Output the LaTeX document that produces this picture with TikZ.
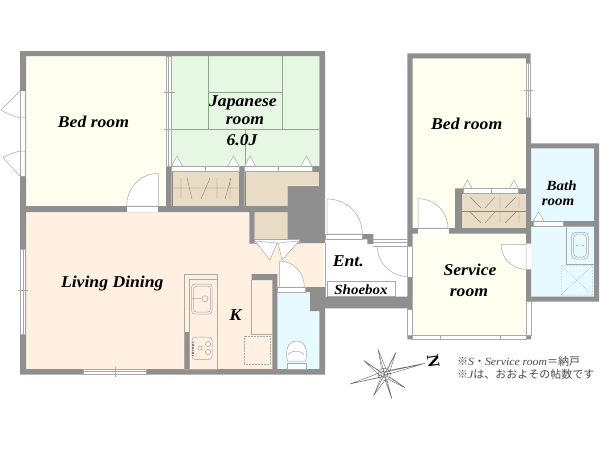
\documentclass[tikz,border=0pt]{standalone}
\usepackage{fontspec}
\setmainfont{Liberation Serif}[FakeStretch=1.07]
\newfontfamily\notefont{Noto Sans CJK JP}
\definecolor{wallgray}{HTML}{8F8F8F}
\definecolor{thinline}{HTML}{A8A8A8}
\definecolor{bedfloor}{HTML}{FFFFF0}
\definecolor{tatami}{HTML}{E6F7E4}
\definecolor{tatamiline}{HTML}{8EA58E}
\definecolor{livfloor}{HTML}{FFF0E2}
\definecolor{closet}{HTML}{E8DCC7}
\definecolor{closetline}{HTML}{8C8478}
\definecolor{bathfloor}{HTML}{E6FAFF}
\definecolor{notegray}{HTML}{4A4A4A}
\tikzset{
	wall/.style={fill=wallgray},
	thin line/.style={draw=thinline,line width=0.5pt},
	doorleaf/.style={draw=thinline,line width=0.5pt,fill=white},
	winstrip/.style={draw=thinline,line width=0.5pt,fill=white},
	roomlabel/.style={font=\fontsize{16.5}{18}\selectfont\bfseries\itshape,text=black,inner sep=0pt},
	smalllabel/.style={roomlabel,font=\fontsize{14}{15}\selectfont\bfseries\itshape},
	noteline/.style={font=\fontsize{11}{12}\notefont,text=notegray,anchor=west,inner sep=0pt},
}
\begin{document}
\begin{tikzpicture}[x=1pt,y=-1pt]
	\useasboundingbox (0,0) rectangle (600,450);
	\fill[bedfloor] (26,56) rectangle (166,206);
	\fill[bedfloor] (412.7,58) rectangle (526,228);
	\fill[bedfloor] (412.7,233) rectangle (526,335);
	\fill[tatami] (171,56) rectangle (319.3,166);
	\fill[livfloor] (26,212) -- (249.3,212) -- (249.3,243) -- (323,243) -- (323,287) -- (277,287) -- (277,369) -- (26,369) -- cycle;
	\fill[closet] (171.7,171.5) rectangle (239.3,206);
	\fill[closet] (244.7,171.5) -- (319.3,171.5) -- (319.3,185.7) -- (287.7,185.7) -- (287.7,206) -- (244.7,206) -- cycle;
	\fill[closet] (254.7,212) rectangle (299.3,239);
	\fill[closet] (461,193.5) rectangle (526,228);
	\fill[bathfloor] (531,148) rectangle (594,297);
	\fill[bathfloor] (277,292) rectangle (319.3,369);
	\draw[tatamiline,line width=0.5pt] (208.7,56) -- (208.7,129.3) (282.3,56) -- (282.3,129.3) (208.7,92.3) -- (282.3,92.3) (166,129.3) -- (319.3,129.3) (245.3,129.3) -- (245.3,166);
	\draw[closetline,line width=0.4pt] (171.7,171.5) -- (171.7,206) -- (239.3,206) -- (239.3,171.5) -- cycle;
	\draw[closetline,line width=0.4pt] (244.7,171.5) -- (319.3,171.5) -- (319.3,185.7) -- (287.7,185.7) -- (287.7,206) -- (244.7,206) -- cycle;
	\draw[closetline,line width=0.4pt] (181,178) -- (181,199) (172,188) -- (239,188) (187,178) -- (192,199) (201,199) -- (210,178) (217,178) -- (217,199) (225,199) -- (231,178) (230,178) -- (230,199);
	\draw[closetline,line width=0.4pt] (461,193.5) rectangle (526,228);
	\draw[closetline,line width=0.4pt] (461,211) -- (526,211);
	\draw[closetline,line width=0.4pt] (470,197) -- (481,208) (485,208) -- (495,197) (500,197) -- (500,208) (505,208) -- (516,197) (519,197) -- (519,208);
	\draw[closetline,line width=0.4pt] (470,212) -- (481,223) (485,223) -- (495,212) (500,212) -- (500,223) (505,223) -- (516,212) (519,212) -- (519,223);
	\draw[doorleaf] (177,156) -- (171.7,166) -- (182.5,166) -- cycle;
	\draw[doorleaf] (233.5,156) -- (228,166) -- (239,166) -- cycle;
	\draw[doorleaf] (250,156) -- (244.7,166) -- (255.5,166) -- cycle;
	\draw[doorleaf] (306.5,156) -- (301,166) -- (312,166) -- cycle;
	\draw[doorleaf] (467.3,180) -- (463,188.3) -- (472,188.3) -- cycle;
	\draw[doorleaf] (514,180) -- (509.5,188.3) -- (518.5,188.3) -- cycle;
	\draw[doorleaf] (538.5,212) -- (533.3,221) -- (544,221) -- cycle;
	\fill[wall] (20,51) rectangle (325,56) (20,51) rectangle (26,374.5) (20,369) rectangle (325,374.5)
		(26,206) rectangle (325,212) (166,166) rectangle (171.7,212) (239.3,166) rectangle (244.7,206)
		(312.3,166) rectangle (325,171.5) (319.3,51) rectangle (325,243) (287.7,186) rectangle (325,243)
		(249.3,206) rectangle (254.7,243.6) (299.3,212) rectangle (325,243) (184,332) rectangle (189.3,369)
		(251.7,274) rectangle (277.3,280) (272.3,274) rectangle (277.3,374.5) (305,287) rectangle (325,292)
		(310,287) rectangle (325,311) (319.3,287) rectangle (325,374.5) (323,296.7) rectangle (412,308.3);
	\fill[wall] (362.3,234) -- (373.3,234) -- (373.3,244) -- (367.3,244) -- (367.3,239.3) -- (362.3,239.3) -- cycle;
	\fill[wall] (407.3,53.3) rectangle (530.7,58.3) (407.3,53.3) rectangle (412.7,246.7) (407.3,276.5) rectangle (412.7,309)
		(526,53.3) rectangle (530.7,63) (526,117.7) rectangle (531,243.7) (526,269.3) rectangle (531,301.7)
		(455,188.3) rectangle (461,233.7) (455,188.3) rectangle (463.3,193.5) (518,188.3) rectangle (526,193.5)
		(449,228) rectangle (526,233.7) (412.7,228) rectangle (418,233.7) (531,143.3) rectangle (599,148.3)
		(594,143.3) rectangle (599,301.7) (526,296.7) rectangle (599,301.7) (563.3,221) rectangle (599,226.7)
		(531,221) rectangle (533.3,226.7) (407.3,335) rectangle (412.7,339.3) (526,335) rectangle (531,339.3);
	\draw[winstrip] (20.3,249.3) rectangle (25.7,334.3);
	\draw[thin line] (23,249.3) -- (23,334.3) (18,290.7) -- (28,290.7);
	\draw[winstrip] (83.7,369) rectangle (146,374.5);
	\draw[thin line] (83.7,371.7) -- (146,371.7) (115,367) -- (115,377);
	\draw[winstrip] (166,56) rectangle (171.3,166);
	\draw[thin line] (168.7,56) -- (168.7,166) (164,92.3) -- (175,92.3) (164,129.3) -- (175,129.3);
	\draw[winstrip] (171.7,166) rectangle (205.3,171.5);
	\draw[winstrip] (205.3,166) rectangle (239.3,171.5);
	\draw[winstrip] (244.7,166) rectangle (278.3,171.5);
	\draw[winstrip] (278.3,166) rectangle (312.3,171.5);
	\draw[winstrip] (254.7,239) rectangle (299.3,243);
	\draw[doorleaf] (255,241) -- (270,260) -- (277,243) -- cycle;
	\draw[doorleaf] (278,243) -- (282,260) -- (299,241) -- cycle;
	\draw[winstrip] (463.3,188.3) rectangle (491,193.5);
	\draw[winstrip] (491,188.3) rectangle (518,193.5);
	\draw[winstrip] (533.3,221) rectangle (563.3,226.7);
	\draw[winstrip] (526,63) rectangle (530.7,117.7);
	\draw[thin line] (528.3,63) -- (528.3,117.7) (524,90.7) -- (533,90.7);
	\draw[winstrip] (407.5,309) rectangle (412.7,335);
	\draw[winstrip] (412.7,335) rectangle (440.7,339.3);
	\draw[winstrip] (440.7,335) rectangle (500.3,339.3);
	\draw[winstrip] (500.3,335) rectangle (526,339.3);
	\draw[winstrip] (526.2,301.7) rectangle (530.8,335);
	\fill[white] (20.5,91) rectangle (25.7,176);
	\draw[doorleaf] (20,91) -- (1,110) .. controls (8,114) and (16,118) .. (25,118) -- (25,91);
	\draw[doorleaf] (20,176) -- (3,158) .. controls (9,154) and (16,151) .. (25,151) -- (25,176);
	\draw[thin line] (20.3,90.7) -- (20.3,176) (25.7,90.7) -- (25.7,176);
	\fill[white] (126.7,206) rectangle (158.3,212);
	\draw[doorleaf] (126.7,206) .. controls (126.7,188) and (140,173.5) .. (158.3,173.5) -- (158.3,206) -- cycle;
	\draw[thin line] (126.7,206) -- (158.3,206);
	\fill[white] (418,228) rectangle (449,233.7);
	\draw[doorleaf] (448,228) .. controls (448,212) and (435,198.7) .. (418,198.7) -- (418,228) -- cycle;
	\draw[thin line] (418,228) -- (449,228);
	\draw[doorleaf] (304.3,287) .. controls (304.3,272) and (293,261) .. (279.5,261) -- (279.5,287) -- cycle;
	\fill[white] (277.5,287) rectangle (305,292);
	\draw[thin line] (277.5,287) rectangle (305,292);
	\draw[thin line] (325,243) -- (325,296.7);
	\draw[doorleaf] (362.3,234) .. controls (362.3,214) and (347,199) .. (327,199) -- (327,234) -- cycle;
	\draw[thin line] (325,234) rectangle (362.3,239.3);
	\draw[thin line] (373.3,239.3) -- (407.7,239.3) (373.3,242.7) -- (407.7,242.7) (373.3,246) -- (407.7,246);
	\draw[doorleaf] (377.3,246) .. controls (377.3,263) and (391,276.5) .. (408,276.5);
	\fill[white] (407.7,246.7) rectangle (412.7,276.5);
	\draw[thin line] (407.7,246.7) -- (407.7,276.5) (412.7,246.7) -- (412.7,296);
	\fill[white] (526,243.7) rectangle (531,269.3);
	\draw[doorleaf] (501,244.3) .. controls (501,258) and (512,269.3) .. (526,269.3) -- (526,244.3) -- cycle;
	\draw[thin line] (184,274) rectangle (217,369) (189.3,279) rectangle (217,369);
	\draw[thin line,rounded corners=3pt] (191.7,284) rectangle (212,314);
	\draw[thin line,rounded corners=3pt] (193.5,286) rectangle (210.5,312);
	\draw[thin line] (192,298.7) -- (201,298.7) (205,298.7) circle[radius=3pt];
	\draw[thin line,rounded corners=3pt] (192,337) rectangle (212,359.5);
	\draw[thin line] (200,348) circle[radius=2pt] (208,344) circle[radius=2.6pt] (208,352) circle[radius=2.6pt];
	\draw[gray,line width=1.2pt,dash pattern=on 0.8pt off 0.8pt] (193,342) -- (193,356);
	\draw[thin line,draw=closetline!70] (251.7,280) -- (251.7,334) -- (272.3,334);
	\draw[thin line,densely dotted] (244,336) rectangle (270,364.5);
	\draw[thin line,fill=bathfloor!30] (287.3,363) rectangle (306.7,369);
	\draw[thin line,fill=white] (287.5,361) .. controls (285,352) and (287,341) .. (296.7,341) .. controls (306,341) and (308,352) .. (305.5,361) -- cycle;
	\draw[thin line] (288,355) .. controls (290,350) and (302,350) .. (304,355);
	\draw[thin line] (327,281.5) rectangle (395.7,296.7);
	\draw[thin line] (566,226.7) -- (566,264.3) -- (594,264.3);
	\draw[thin line,rounded corners=4pt] (571.7,232.3) rectangle (588.3,259);
	\draw[thin line,rounded corners=4pt] (573.5,234) rectangle (586.5,257);
	\draw[thin line] (577,245.5) circle[radius=0.6pt] (583,245.5) circle[radius=0.6pt];
	\draw[thin line,densely dotted] (561,265.7) rectangle (592.7,295) (561,265.7) -- (592.7,295) (561,295) -- (592.7,265.7);
	\draw[black!60,line width=0.4pt] (386,371) -- (425,363.3) -- (386,375) (382,377) -- (350,384) -- (382,372) (384,372.5) -- (425,363.3) (384.5,376) -- (350,384);
	\draw[black!60,line width=0.4pt] (381.5,369) -- (378.3,350) -- (386,369) (388,369) -- (395.7,352.7) -- (390,371) (379,371) -- (364,360.7) -- (380,376) (390,377) -- (405,387.7) -- (388,379) (380,380) -- (374,395) -- (385,380) (387,380) -- (391.7,398.3) -- (385,380);
	\foreach \tipx/\tipy in {378.3/350,395.7/352.7,364/360.7,405/387.7,374/395,391.7/398.3}
		\draw[black!60,line width=0.3pt] (384.3,374.3) -- (\tipx,\tipy);
	\draw[black!60,line width=0.4pt] (384.3,374.3) circle[radius=6pt] (384.3,374.3) circle[radius=3.5pt] (378,376) -- (391,373) (383,368) -- (386,381);
	\draw (433.3,361.7) node (north) [rotate=-82,font=\fontsize{17}{18}\selectfont\bfseries,inner sep=0pt] {N};
	\draw (93.5,122) node (bedleft) [roomlabel] {Bed room};
	\draw (243,103) node (japan) [roomlabel] {Japanese};
	\draw (245,121) node (japanroom) [roomlabel] {room};
	\draw (242,140) node (japansize) [roomlabel] {6.0J};
	\draw (112.3,283.3) node (living) [roomlabel] {Living Dining};
	\draw (235.5,315) node (kitchen) [roomlabel] {K};
	\draw (348.3,261.7) node (ent) [roomlabel] {Ent.};
	\draw (361,290) node (shoebox) [smalllabel] {Shoebox};
	\draw (466.7,124) node (bedright) [roomlabel] {Bed room};
	\draw (470,270) node (service) [roomlabel] {Service};
	\draw (469,292.7) node (serviceroom) [roomlabel] {room};
	\draw (561.7,185.7) node (bath) [smalllabel] {Bath};
	\draw (558,202.7) node (bathroom) [smalllabel] {room};
	\draw (457,361) node (noteone) [noteline] {※{\rmfamily\itshape S}・{\rmfamily\itshape Service room}＝納戸};
	\draw (457,374) node (notetwo) [noteline] {※{\rmfamily\itshape J}は、おおよその帖数です};
\end{tikzpicture}
\end{document}
